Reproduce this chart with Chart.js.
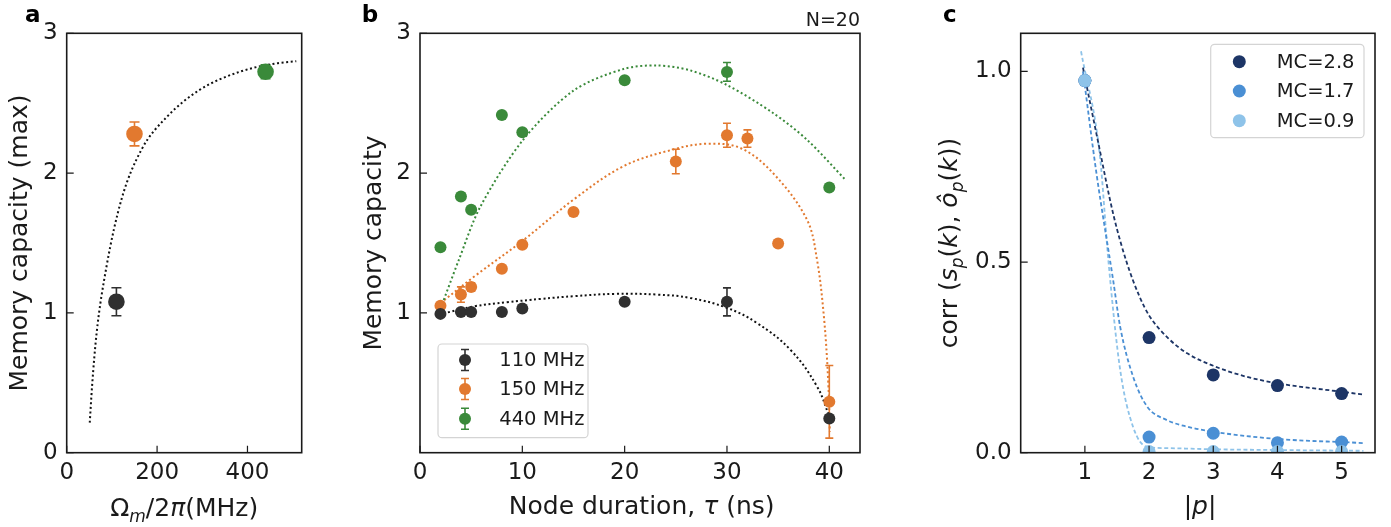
<!DOCTYPE html>
<html>
<head>
<meta charset="utf-8">
<script src="https://cdn.jsdelivr.net/npm/chart.js@4.4.1/dist/chart.umd.min.js"></script>
<style>
  body { margin: 0; background: #fff; width: 1391px; height: 527px; position: relative; overflow: hidden; }
  canvas { position: absolute; top: 0; }
</style>
</head>
<body>
<canvas id="chartA" style="left:0px" width="330" height="527"></canvas>
<canvas id="chartB" style="left:330px" width="560" height="527"></canvas>
<canvas id="chartC" style="left:890px" width="501" height="527"></canvas>
<script>
// ---------- panel a: max memory capacity vs mechanical frequency ----------
const freqA = [110, 150, 440];
const mcMaxA = [1.08, 2.28, 2.725];
const mcMaxErrA = [0.10, 0.085, 0.05];
const fitFreqA = [51, 56, 66, 88, 121, 165, 221, 294, 383, 464, 508];
const fitMcA = [0.215, 0.47, 0.85, 1.33, 1.81, 2.165, 2.40, 2.595, 2.725, 2.785, 2.80];
const xTicksA = [0, 200, 400];
const yTicksA = [0, 1, 2, 3];

// ---------- panel b: memory capacity vs node duration ----------
const tau110 = [2, 4, 5, 8, 10, 20, 30, 40];
const mc110 = [0.993, 1.007, 1.007, 1.007, 1.031, 1.079, 1.079, 0.245];
const err110 = [0, 0, 0, 0, 0, 0, 0.10, 0.02];
const tau150 = [2, 4, 5, 8, 10, 15, 25, 30, 32, 35, 40];
const mc150 = [1.052, 1.131, 1.186, 1.315, 1.488, 1.721, 2.083, 2.271, 2.247, 1.497, 0.364];
const err150 = [0, 0.055, 0.03, 0, 0, 0, 0.088, 0.086, 0.062, 0, 0.26];
const tau440 = [2, 4, 5, 8, 10, 20, 30, 40];
const mc440 = [1.469, 1.833, 1.738, 2.416, 2.293, 2.664, 2.724, 1.897];
const err440 = [0, 0, 0, 0, 0, 0, 0.067, 0];

const fitTau110 = [1.85, 5.3, 8.5, 11.8, 15.1, 19, 23.2, 26.4, 30, 32.9, 36.2, 38.8, 40];
const fitMc110 = [0.988, 1.047, 1.076, 1.10, 1.12, 1.136, 1.131, 1.107, 1.036, 0.929, 0.736, 0.474, 0.26];
const fitTau150 = [2, 5.3, 10.1, 15, 19.9, 24.8, 28, 31.3, 34.5, 37.8, 38.8, 39.5, 39.9, 40.05];
const fitMc150 = [1.07, 1.26, 1.52, 1.81, 2.05, 2.17, 2.21, 2.18, 2.0, 1.67, 1.38, 0.95, 0.5, 0.15];
const fitTau440 = [1.85, 3.8, 5.9, 10.1, 15, 19.9, 23.2, 26.4, 30, 34.5, 37.8, 41.6];
const fitMc440 = [1.0, 1.38, 1.76, 2.24, 2.59, 2.745, 2.77, 2.735, 2.63, 2.43, 2.24, 1.95];

const xTicksB = [0, 10, 20, 30, 40];
const yTicksB = [1, 2, 3];
const legendB = ['110 MHz', '150 MHz', '440 MHz'];

// ---------- panel c: correlation vs |p| ----------
const pC = [1, 2, 3, 4, 5];
const corr28 = [0.976, 0.302, 0.204, 0.176, 0.155];
const corr17 = [0.976, 0.041, 0.051, 0.026, 0.028];
const corr09 = [0.976, 0.003, 0.003, 0.003, 0.003];

const fitP28 = [0.97, 1.2, 1.45, 1.65, 1.85, 2.0, 2.3, 2.6, 3.0, 3.5, 4.0, 4.5, 5.0, 5.35];
const fitCorr28 = [1.01, 0.82, 0.62, 0.50, 0.41, 0.36, 0.30, 0.26, 0.228, 0.20, 0.182, 0.17, 0.16, 0.152];
const fitP17 = [0.97, 1.18, 1.44, 1.55, 1.75, 1.97, 2.27, 2.6, 3.0, 3.5, 4.0, 4.5, 5.0, 5.36];
const fitCorr17 = [1.0, 0.733, 0.453, 0.33, 0.20, 0.121, 0.086, 0.068, 0.055, 0.044, 0.036, 0.031, 0.028, 0.025];
const fitP09 = [0.94, 1.235, 1.365, 1.55, 1.75, 1.96, 2.27, 3.0, 4.0, 5.34];
const fitCorr09 = [1.053, 0.777, 0.506, 0.217, 0.068, 0.016, 0.012, 0.009, 0.007, 0.005];

const xTicksC = [1, 2, 3, 4, 5];
const yTicksC = [0, 0.5, 1.0];
const yTickLabelsC = ['0.0', '0.5', '1.0'];
const legendC = ['MC=2.8', 'MC=1.7', 'MC=0.9'];

// ---------- styling ----------
const FONT = '"DejaVu Sans", sans-serif';
const INK = '#1a1a1a';
const GREY = '#303030', ORANGE = '#e2792f', GREEN = '#3a8a3a';
const NAVY = '#1d3566', MID = '#4a8fd4', LIGHT = '#8ec3e9';
const PLOT_TOP = 33.3, PLOT_BOTTOM = 452.7, H = 527;

const pts = (xs, ys) => xs.map((x, i) => ({ x, y: ys[i] }));

function dots(xs, ys, color, r, errs, order) {
  return {
    data: pts(xs, ys), backgroundColor: color, borderColor: color,
    pointRadius: r, pointHoverRadius: r, pointBorderWidth: 0,
    errors: errs, errColor: color, order, clip: false
  };
}

// smooth: 'monotone' for rising/falling fits, a tension value for fits with a peak
function fit(xs, ys, color, dash, width, order, smooth) {
  const ds = {
    data: pts(xs, ys), showLine: true, borderColor: color, borderWidth: width,
    borderDash: dash, pointRadius: 0, pointHoverRadius: 0, fill: false,
    order, clip: false
  };
  if (smooth === 'monotone') ds.cubicInterpolationMode = 'monotone';
  else ds.tension = smooth;
  return ds;
}

function axes(xMin, xMax, xTicks, yMin, yMax, yTicks, leftW, yLabels) {
  const tickFont = { family: FONT, size: 23 };
  return {
    x: {
      type: 'linear', min: xMin, max: xMax,
      grid: { display: false, drawTicks: false }, border: { display: false },
      afterBuildTicks: s => { s.ticks = xTicks.map(v => ({ value: v })); },
      afterFit: s => { s.height = H - PLOT_BOTTOM; },
      ticks: { font: tickFont, color: INK, padding: 7, maxRotation: 0, autoSkip: false,
               callback: v => String(v) }
    },
    y: {
      type: 'linear', min: yMin, max: yMax,
      grid: { display: false, drawTicks: false }, border: { display: false },
      afterBuildTicks: s => { s.ticks = yTicks.map(v => ({ value: v })); },
      afterFit: s => { s.width = leftW; },
      ticks: { font: tickFont, color: INK, padding: 9, autoSkip: false,
               callback: (v, i) => yLabels ? yLabels[i] : String(v) }
    }
  };
}

// rich text: segments drawn one after another, centred on (cx, base)
function rich(ctx, segs, cx, base, rotate) {
  ctx.save();
  ctx.fillStyle = INK;
  ctx.textBaseline = 'alphabetic';
  ctx.textAlign = 'left';
  let total = 0;
  segs.forEach(s => { ctx.font = s.f; total += ctx.measureText(s.t).width; });
  ctx.translate(cx, base);
  if (rotate) ctx.rotate(-Math.PI / 2);
  let x = -total / 2;
  segs.forEach(s => {
    ctx.font = s.f;
    ctx.fillText(s.t, x, s.dy || 0);
    x += ctx.measureText(s.t).width;
  });
  ctx.restore();
}

const N = '25px ' + FONT, I = 'italic 25px ' + FONT, S = 'italic 17px ' + FONT;

function panelLabel(ctx, t, x) {
  ctx.save();
  ctx.font = 'bold 23px ' + FONT;
  ctx.fillStyle = '#000';
  ctx.textBaseline = 'alphabetic';
  ctx.fillText(t, x, 21.7);
  ctx.restore();
}

function legendFrame(ctx, x0, y0, x1, y1) {
  ctx.save();
  ctx.beginPath();
  ctx.roundRect(x0, y0, x1 - x0, y1 - y0, 4);
  ctx.fillStyle = 'rgba(255,255,255,0.85)';
  ctx.fill();
  ctx.strokeStyle = '#d4d4d4';
  ctx.lineWidth = 1.2;
  ctx.stroke();
  ctx.restore();
}

function errBar(ctx, x, yTop, yBot, color, cap) {
  ctx.save();
  ctx.strokeStyle = color;
  ctx.lineWidth = 1.6;
  ctx.beginPath();
  ctx.moveTo(x, yTop); ctx.lineTo(x, yBot);
  ctx.moveTo(x - cap, yTop); ctx.lineTo(x + cap, yTop);
  ctx.moveTo(x - cap, yBot); ctx.lineTo(x + cap, yBot);
  ctx.stroke();
  ctx.restore();
}

function decor(cap, extra) {
  return {
    id: 'decor',
    beforeDatasetsDraw(chart) {
      const { ctx, scales } = chart;
      chart.data.datasets.forEach(ds => {
        if (!ds.errors) return;
        ds.data.forEach((p, i) => {
          const e = ds.errors[i];
          if (!e) return;
          const x = scales.x.getPixelForValue(p.x);
          errBar(ctx, x, scales.y.getPixelForValue(p.y + e), scales.y.getPixelForValue(p.y - e), ds.errColor, cap);
        });
      });
    },
    afterDraw(chart) {
      const { ctx, chartArea: a, scales } = chart;
      ctx.save();
      ctx.strokeStyle = INK;
      ctx.lineWidth = 1.6;
      ctx.strokeRect(a.left, a.top, a.right - a.left, a.bottom - a.top);
      ctx.lineWidth = 1.2;
      ctx.beginPath();
      scales.x.ticks.forEach(t => {
        const x = scales.x.getPixelForValue(t.value);
        ctx.moveTo(x, a.bottom); ctx.lineTo(x, a.bottom - 7);
      });
      scales.y.ticks.forEach(t => {
        const y = scales.y.getPixelForValue(t.value);
        ctx.moveTo(a.left, y); ctx.lineTo(a.left + 7, y);
      });
      ctx.stroke();
      ctx.restore();
      extra(ctx, chart);
    }
  };
}

const baseOptions = (padRight, scales) => ({
  responsive: false,
  animation: false,
  events: [],
  layout: { padding: { top: PLOT_TOP, right: padRight, left: 0, bottom: 0 } },
  plugins: { legend: { display: false }, tooltip: { enabled: false } },
  scales
});

// ---------- chart a ----------
new Chart(document.getElementById('chartA'), {
  type: 'scatter',
  data: {
    datasets: [
      fit(fitFreqA, fitMcA, '#111', [2, 2.6], 2, 5, 'monotone'),
      dots([freqA[0]], [mcMaxA[0]], GREY, 8.3, [mcMaxErrA[0]], 1),
      dots([freqA[1]], [mcMaxA[1]], ORANGE, 8.3, [mcMaxErrA[1]], 1),
      dots([freqA[2]], [mcMaxA[2]], GREEN, 8.3, [mcMaxErrA[2]], 1)
    ]
  },
  options: baseOptions(330 - 301.7, axes(0, 520, xTicksA, 0, 3, yTicksA, 66.7)),
  plugins: [decor(5, ctx => {
    panelLabel(ctx, 'a', 25);
    rich(ctx, [{ t: 'Memory capacity (max)', f: N }], 26.5, 243, true);
    rich(ctx, [{ t: 'Ω', f: N }, { t: 'm', f: S, dy: 6 }, { t: '/2', f: N }, { t: 'π', f: I }, { t: '(MHz)', f: N }], 184.2, 516);
  })]
});

// ---------- chart b ----------
const colorsB = [GREY, ORANGE, GREEN];
new Chart(document.getElementById('chartB'), {
  type: 'scatter',
  data: {
    datasets: [
      fit(fitTau440, fitMc440, GREEN, [2, 2.6], 2, 6, 0.3),
      fit(fitTau150, fitMc150, ORANGE, [2, 2.6], 2, 6, 0.35),
      fit(fitTau110, fitMc110, '#111', [2, 2.6], 2, 5, 0.4),
      dots(tau440, mc440, GREEN, 6, err440, 3),
      dots(tau150, mc150, ORANGE, 6, err150, 2),
      dots(tau110, mc110, GREY, 6, err110, 1)
    ]
  },
  options: baseOptions(560 - 530, axes(0, 43, xTicksB, 0, 3, yTicksB, 90)),
  plugins: [decor(4, ctx => {
    panelLabel(ctx, 'b', 31.7);
    rich(ctx, [{ t: 'Memory capacity', f: N }], 50.7, 243, true);
    rich(ctx, [{ t: 'Node duration, ', f: N }, { t: 'τ', f: I }, { t: ' (ns)', f: N }], 311.7, 514);
    ctx.save();
    ctx.font = '19px ' + FONT;
    ctx.fillStyle = INK;
    ctx.textAlign = 'right';
    ctx.fillText('N=20', 530, 25.5);
    // legend
    legendFrame(ctx, 108, 344, 258, 437.7);
    const rows = [360, 389, 418.7];
    ctx.font = '19.5px ' + FONT;
    ctx.textAlign = 'left';
    ctx.textBaseline = 'middle';
    legendB.forEach((t, i) => {
      errBar(ctx, 135, rows[i] - 10.5, rows[i] + 10.5, colorsB[i], 4);
      ctx.beginPath();
      ctx.arc(135, rows[i], 6, 0, Math.PI * 2);
      ctx.fillStyle = colorsB[i];
      ctx.fill();
      ctx.fillStyle = INK;
      ctx.fillText(t, 169.3, rows[i] + 1);
    });
    ctx.restore();
  })]
});

// ---------- chart c ----------
const colorsC = [NAVY, MID, LIGHT];
new Chart(document.getElementById('chartC'), {
  type: 'scatter',
  data: {
    datasets: [
      fit(fitP28, fitCorr28, NAVY, [4, 2.6], 1.8, 6, 'monotone'),
      fit(fitP17, fitCorr17, MID, [4, 2.6], 1.8, 6, 'monotone'),
      fit(fitP09, fitCorr09, LIGHT, [4, 2.6], 1.8, 6, 'monotone'),
      Object.assign(dots(pC, corr28, NAVY, 6.5, null, 3), { clip: 0 }),
      Object.assign(dots(pC, corr17, MID, 6.5, null, 2), { clip: 0 }),
      Object.assign(dots(pC, corr09, LIGHT, 6.5, null, 1), { clip: 0 })
    ]
  },
  options: baseOptions(501 - 485, axes(0, 5.52, xTicksC, 0, 1.1, yTicksC, 130.7, yTickLabelsC)),
  plugins: [decor(4, ctx => {
    panelLabel(ctx, 'c', 53);
    rich(ctx, [
      { t: 'corr (', f: N }, { t: 's', f: I }, { t: 'p', f: S, dy: 6 }, { t: '(', f: N }, { t: 'k', f: I }, { t: '), ', f: N },
      { t: 'ô', f: I }, { t: 'p', f: S, dy: 6 }, { t: '(', f: N }, { t: 'k', f: I }, { t: '))', f: N }
    ], 66.7, 243, true);
    rich(ctx, [{ t: '|', f: N }, { t: 'p', f: I }, { t: '|', f: N }], 310, 514);
    legendFrame(ctx, 320.7, 44.3, 474, 137.7);
    const rows = [61.7, 91, 120.7];
    ctx.save();
    ctx.font = '19.5px ' + FONT;
    ctx.textBaseline = 'middle';
    legendC.forEach((t, i) => {
      ctx.beginPath();
      ctx.arc(349.3, rows[i], 6.5, 0, Math.PI * 2);
      ctx.fillStyle = colorsC[i];
      ctx.fill();
      ctx.fillStyle = INK;
      ctx.fillText(t, 386.7, rows[i] + 1);
    });
    ctx.restore();
  })]
});
</script>
</body>
</html>
